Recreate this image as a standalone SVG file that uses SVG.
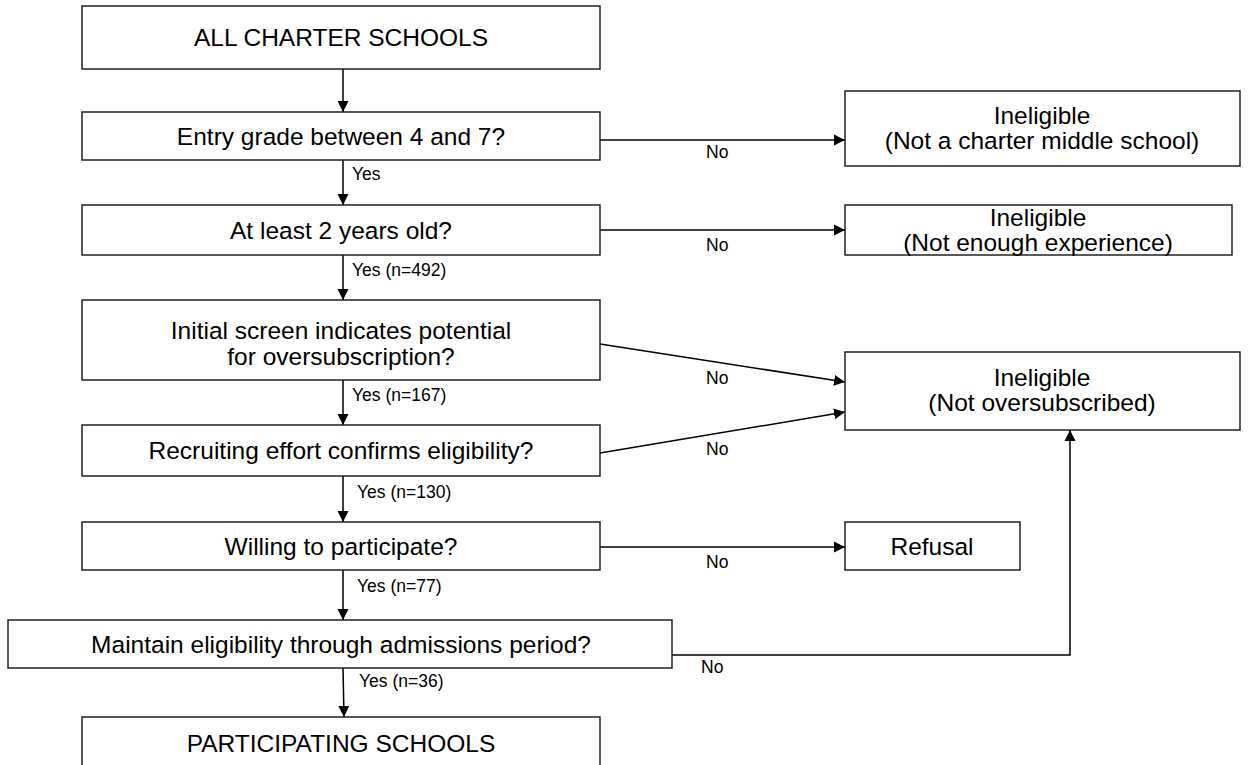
<svg xmlns="http://www.w3.org/2000/svg" width="1252" height="765" viewBox="0 0 1252 765">
<defs>
<style>
.box{fill:#fff;stroke:#222;stroke-width:1.5}
.t{font-family:"Liberation Sans",Arial,sans-serif;font-size:24.5px;fill:#000;text-anchor:middle}
.l{font-family:"Liberation Sans",Arial,sans-serif;font-size:17.5px;fill:#000}
.c{fill:none;stroke:#000;stroke-width:1.5}
</style>
<marker id="ah" viewBox="0 0 10 10" refX="10" refY="5" markerWidth="11" markerHeight="12" markerUnits="userSpaceOnUse" orient="auto">
<path d="M0,0 L10,5 L0,10 Z" fill="#000"/>
</marker>
</defs>
<rect width="1252" height="765" fill="#fff"/>
<g id="connectors">
<line class="c" x1="343" y1="69" x2="343" y2="112" marker-end="url(#ah)"/>
<line class="c" x1="343" y1="160" x2="343" y2="205" marker-end="url(#ah)"/>
<line class="c" x1="343" y1="255" x2="343" y2="300" marker-end="url(#ah)"/>
<line class="c" x1="343" y1="380" x2="343" y2="425" marker-end="url(#ah)"/>
<line class="c" x1="343" y1="476" x2="343" y2="522" marker-end="url(#ah)"/>
<line class="c" x1="343" y1="570" x2="343" y2="620" marker-end="url(#ah)"/>
<line class="c" x1="343" y1="668" x2="344" y2="717" marker-end="url(#ah)"/>
<line class="c" x1="600" y1="140" x2="845" y2="140" marker-end="url(#ah)"/>
<line class="c" x1="600" y1="230" x2="845" y2="230" marker-end="url(#ah)"/>
<line class="c" x1="600" y1="344" x2="845" y2="382" marker-end="url(#ah)"/>
<line class="c" x1="600" y1="453" x2="845" y2="412" marker-end="url(#ah)"/>
<line class="c" x1="600" y1="547" x2="845" y2="547" marker-end="url(#ah)"/>
<polyline class="c" points="672,655 1070,655 1070,430" marker-end="url(#ah)"/>
<text class="l" x="352" y="180">Yes</text>
<text class="l" x="352" y="276">Yes (n=492)</text>
<text class="l" x="352" y="401">Yes (n=167)</text>
<text class="l" x="357" y="498">Yes (n=130)</text>
<text class="l" x="357" y="592">Yes (n=77)</text>
<text class="l" x="359" y="687">Yes (n=36)</text>
<text class="l" x="706" y="158">No</text>
<text class="l" x="706" y="251">No</text>
<text class="l" x="706" y="384">No</text>
<text class="l" x="706" y="455">No</text>
<text class="l" x="706" y="568">No</text>
<text class="l" x="701" y="673">No</text>
</g>
<g id="n1"><rect class="box" x="82" y="6" width="518" height="63"/><text class="t" x="341" y="46">ALL CHARTER SCHOOLS</text></g>
<g id="n2"><rect class="box" x="82" y="112" width="518" height="48"/><text class="t" x="341" y="145">Entry grade between 4 and 7?</text></g>
<g id="n3"><rect class="box" x="82" y="205" width="518" height="50"/><text class="t" x="341" y="239">At least 2 years old?</text></g>
<g id="n4"><rect class="box" x="82" y="300" width="518" height="80"/><text class="t" x="341" y="339">Initial screen indicates potential</text><text class="t" x="341" y="365">for oversubscription?</text></g>
<g id="n5"><rect class="box" x="82" y="425" width="518" height="51"/><text class="t" x="341" y="459">Recruiting effort confirms eligibility?</text></g>
<g id="n6"><rect class="box" x="82" y="522" width="518" height="48"/><text class="t" x="341" y="555">Willing to participate?</text></g>
<g id="n7"><rect class="box" x="8" y="620" width="664" height="48"/><text class="t" x="341" y="653">Maintain eligibility through admissions period?</text></g>
<g id="n8"><rect class="box" x="82" y="717" width="518" height="60"/><text class="t" x="341" y="752">PARTICIPATING SCHOOLS</text></g>
<g id="r1"><rect class="box" x="845" y="91" width="395" height="75"/><text class="t" x="1042" y="124">Ineligible</text><text class="t" x="1042" y="149">(Not a charter middle school)</text></g>
<g id="r2"><rect class="box" x="845" y="205" width="387" height="50"/><text class="t" x="1038" y="226">Ineligible</text><text class="t" x="1038" y="251">(Not enough experience)</text></g>
<g id="r3"><rect class="box" x="845" y="352" width="395" height="78"/><text class="t" x="1042" y="386">Ineligible</text><text class="t" x="1042" y="411">(Not oversubscribed)</text></g>
<g id="r4"><rect class="box" x="845" y="522" width="175" height="48"/><text class="t" x="932" y="555">Refusal</text></g>
</svg>
